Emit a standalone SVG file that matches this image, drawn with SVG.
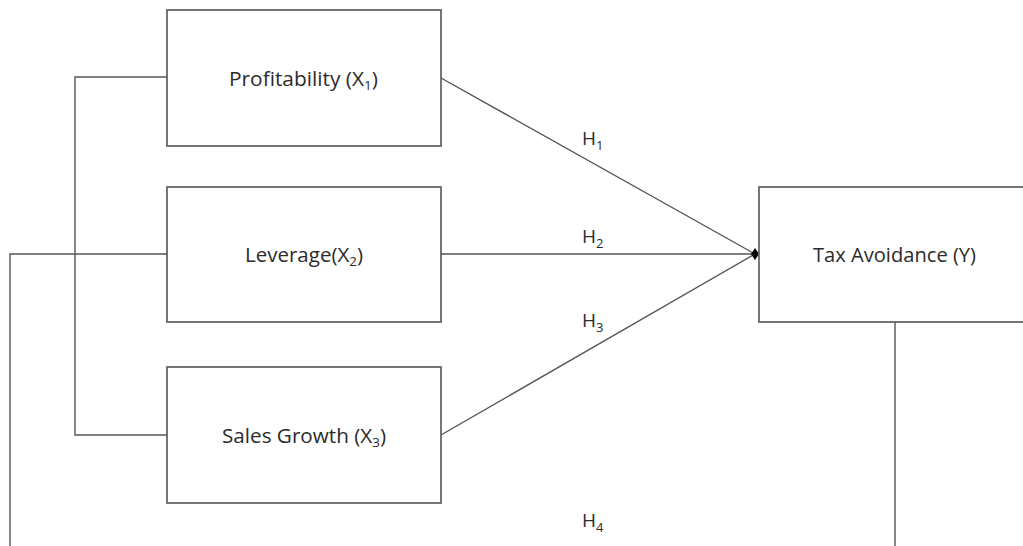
<svg xmlns="http://www.w3.org/2000/svg" width="1023" height="546" viewBox="0 0 1023 546">
<style>
.box{fill:#fff;stroke:#5e5e5e;stroke-width:1.7}
.ln{fill:none;stroke:#555;stroke-width:1.4}
.lbl{font-family:"Open Sans","Liberation Sans",sans-serif;font-size:20px;fill:#2b2b2b}
.h{font-family:"Open Sans","Liberation Sans",sans-serif;font-size:19px;fill:#2b2b2b}
.sub{font-size:13px}
</style>
<rect width="1023" height="546" fill="#fff"/>
<g id="connectors">
<polyline class="ln" points="167,77 75,77 75,435 167,435"/>
<polyline class="ln" points="167,254 10,254 10,546"/>
<line class="ln" x1="895" y1="322" x2="895" y2="546"/>
<line class="ln" x1="441" y1="78" x2="755" y2="254"/>
<line class="ln" x1="441" y1="254" x2="755" y2="254"/>
<line class="ln" x1="441" y1="435" x2="755" y2="254"/>
<polygon points="751,254 755,248 759,254 755,260" fill="#000"/>
<text class="h" x="582" y="145">H<tspan class="sub" dy="5">1</tspan></text>
<text class="h" x="582" y="243">H<tspan class="sub" dy="5">2</tspan></text>
<text class="h" x="582" y="327">H<tspan class="sub" dy="5">3</tspan></text>
<text class="h" x="582" y="527">H<tspan class="sub" dy="5">4</tspan></text>
</g>
<g id="profitability">
<rect class="box" x="167" y="10" width="274" height="136"/>
<text class="lbl" x="229" y="86" textLength="149" lengthAdjust="spacingAndGlyphs">Profitability (X<tspan class="sub" dy="4">1</tspan><tspan dy="-4">)</tspan></text>
</g>
<g id="leverage">
<rect class="box" x="167" y="187" width="274" height="135"/>
<text class="lbl" x="245" y="262" textLength="118" lengthAdjust="spacingAndGlyphs">Leverage(X<tspan class="sub" dy="4">2</tspan><tspan dy="-4">)</tspan></text>
</g>
<g id="sales-growth">
<rect class="box" x="167" y="367" width="274" height="136"/>
<text class="lbl" x="222" y="443" textLength="164" lengthAdjust="spacingAndGlyphs">Sales Growth (X<tspan class="sub" dy="4">3</tspan><tspan dy="-4">)</tspan></text>
</g>
<g id="tax-avoidance">
<rect class="box" x="759" y="187" width="280" height="135"/>
<text class="lbl" x="813" y="262" textLength="163" lengthAdjust="spacingAndGlyphs">Tax Avoidance (Y)</text>
</g>
</svg>
